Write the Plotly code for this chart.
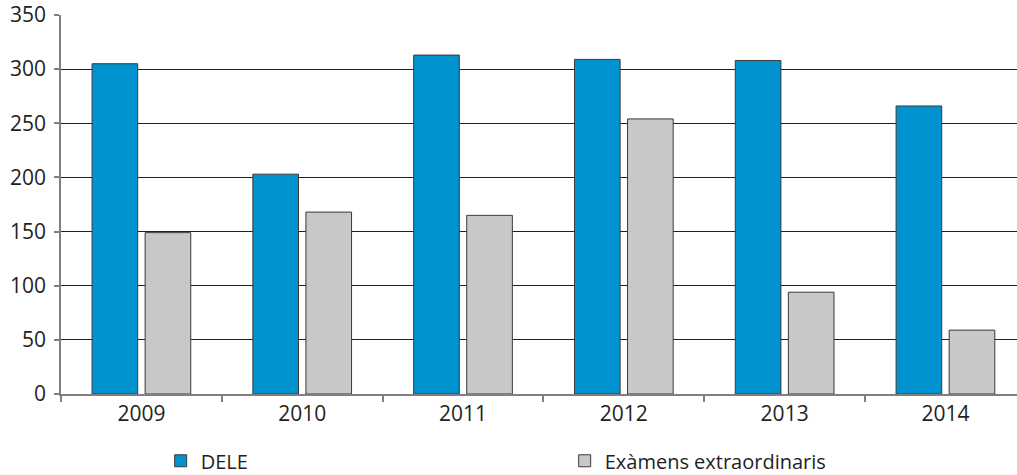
import plotly.graph_objects as go

years = ["2009", "2010", "2011", "2012", "2013", "2014"]
dele = [305, 203, 313, 309, 308, 266]
extra = [149, 168, 165, 254, 94, 59]
y_ticks = [0, 50, 100, 150, 200, 250, 300, 350]

FONT = "Open Sans"
TXT = "#231f20"

fig = go.Figure()
fig.add_trace(go.Bar(x=years, y=dele, name="DELE",
                     marker=dict(color="#0093d0", line=dict(color="#3a3a3a", width=1))))
fig.add_trace(go.Bar(x=years, y=extra, name="Exàmens extraordinaris",
                     marker=dict(color="#c8c8ca", line=dict(color="#3a3a3a", width=1))))

fig.update_layout(
    width=1017, height=475,
    margin=dict(l=61, r=0, t=15, b=81, autoexpand=False),
    paper_bgcolor="white", plot_bgcolor="white",
    barmode="group", bargap=0.34, bargroupgap=0.14,
    font=dict(family=FONT, size=21, color=TXT),
    showlegend=True,
    legend=dict(orientation="h", xref="container", yref="container",
                x=0.158, y=0.03, xanchor="left", yanchor="middle",
                entrywidth=359, entrywidthmode="pixels",
                font=dict(family=FONT, size=20, color=TXT),
                itemwidth=30, tracegroupgap=0),
)
fig.update_xaxes(
    type="category", range=[-0.5, 5.445],
    showline=True, linecolor="#808080", linewidth=1.5,
    ticks="outside", tickson="boundaries", ticklen=6, tickcolor="#808080", tickwidth=1.5,
    showgrid=False, tickfont=dict(size=21), automargin=False,
)
fig.update_yaxes(
    range=[0, 350], tickvals=y_ticks,
    showline=True, linecolor="#808080", linewidth=1.5,
    ticks="outside", ticklen=5, tickcolor="#808080", tickwidth=1.5,
    showgrid=True, gridcolor="#231f20", gridwidth=1,
    zeroline=False, ticklabelstandoff=4, tickfont=dict(size=21), automargin=False,
)

fig.write_html("out.html", config={"displayModeBar": False},
               post_script="document.body.style.margin='0';document.body.style.overflow='hidden';")
